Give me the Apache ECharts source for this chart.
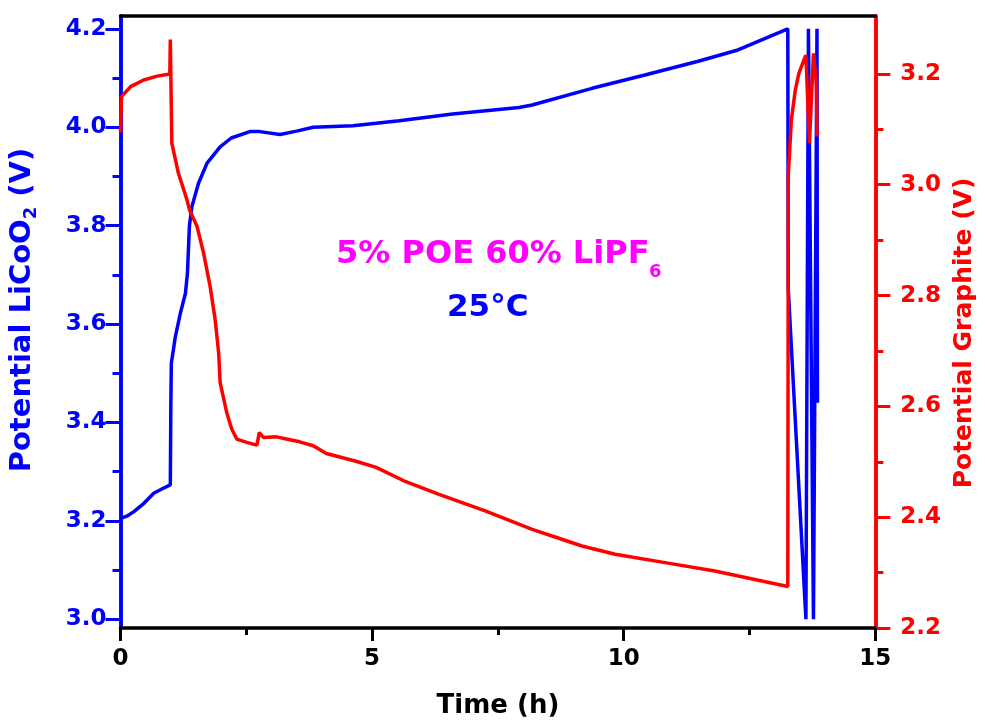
<!DOCTYPE html>
<html>
<head>
<meta charset="utf-8">
<script src="https://cdn.jsdelivr.net/npm/echarts@6/dist/echarts.min.js"></script>
<style>
html,body{margin:0;padding:0;background:#fff;}
#chart{width:985px;height:725px;}
</style>
</head>
<body>
<div id="chart"></div>
<script>
// ---- data ----
const timeTicksMajor = [0, 5, 10, 15];
const leftTicks = [3.0, 3.2, 3.4, 3.6, 3.8, 4.0, 4.2];
const leftMinorTicks = [3.1, 3.3, 3.5, 3.7, 3.9, 4.1];
const rightTicks = [2.2, 2.4, 2.6, 2.8, 3.0, 3.2];
const rightMinorTicks = [2.3, 2.5, 2.7, 2.9, 3.1];

// LiCoO2 potential (V) vs time (h)
const licoo2Time = [0.00,0.14,0.26,0.46,0.66,0.85,0.99,1.00,1.01,1.09,1.19,1.29,1.33,1.37,1.42,1.55,1.72,1.98,2.20,2.57,2.77,3.17,3.50,3.83,4.62,5.54,6.60,7.92,8.18,9.37,10.42,11.48,12.27,13.26,13.27,13.62,13.67,13.69,13.77,13.84,13.85];
const licoo2V    = [3.205,3.210,3.218,3.235,3.256,3.266,3.273,3.430,3.520,3.574,3.622,3.662,3.703,3.800,3.839,3.886,3.927,3.960,3.978,3.991,3.991,3.985,3.992,4.000,4.003,4.013,4.027,4.040,4.045,4.079,4.106,4.134,4.157,4.200,3.670,3.000,4.200,4.200,3.000,4.200,3.440];

// Graphite potential (V) vs time (h)
const graphiteTime = [0.00,0.02,0.20,0.46,0.73,0.98,0.99,1.00,1.02,1.15,1.32,1.37,1.52,1.65,1.78,1.88,1.95,1.98,2.11,2.21,2.31,2.51,2.71,2.74,2.76,2.80,2.84,3.10,3.30,3.56,3.83,4.09,4.68,5.08,5.67,6.33,7.26,8.18,8.71,9.17,9.83,10.82,11.81,13.26,13.27,13.33,13.41,13.48,13.58,13.62,13.69,13.77,13.81,13.82,13.83,13.84];
const graphiteV    = [3.094,3.159,3.177,3.189,3.196,3.200,3.262,3.200,3.075,3.021,2.973,2.955,2.925,2.877,2.817,2.757,2.697,2.643,2.589,2.559,2.541,2.535,2.530,2.528,2.553,2.548,2.544,2.545,2.541,2.536,2.529,2.515,2.501,2.490,2.464,2.441,2.411,2.378,2.362,2.348,2.333,2.318,2.303,2.275,3.015,3.117,3.171,3.201,3.225,3.234,3.075,3.237,3.200,3.190,3.171,3.087];

const LEFT_MIN = 2.982, LEFT_MAX = 4.226;
const RIGHT_MIN = 2.2, RIGHT_MAX = 3.3045;

const pair = (t, v) => t.map((x, i) => [x, v[i]]);

const FONT = 'DejaVu Sans';
const BLUE = '#0000FF', RED = '#FF0000', MAGENTA = '#FF00FF';

function yAxisBase(min, max, pos, color) {
  return {
    type: 'value', min: min, max: max, position: pos,
    axisLine: {show: true, onZero: false, lineStyle: {color: color, width: 3.5}},
    splitLine: {show: false}
  };
}

const chart = echarts.init(document.getElementById('chart'));
chart.setOption({
  animation: false,
  backgroundColor: '#fff',
  grid: {left: 120, right: 107, top: 16, bottom: 97, containLabel: false},
  xAxis: [{
    type: 'value', min: 0, max: 15, interval: 5, position: 'bottom',
    axisLine: {onZero: false, lineStyle: {color: '#000', width: 3.5}},
    axisTick: {inside: false, length: 13, lineStyle: {color: '#000', width: 3}},
    minorTick: {show: true, splitNumber: 2, length: 7, lineStyle: {color: '#000', width: 3}},
    splitLine: {show: false},
    axisLabel: {color: '#000', fontWeight: 'bold', fontSize: 23, fontFamily: FONT, margin: 20,
      formatter: v => timeTicksMajor.includes(v) ? String(v) : ''},
    name: 'Time (h)', nameLocation: 'middle', nameGap: 65,
    nameTextStyle: {color: '#000', fontWeight: 'bold', fontSize: 26, fontFamily: FONT}
  }, {
    type: 'value', min: 0, max: 15, position: 'top',
    axisLine: {onZero: false, lineStyle: {color: '#000', width: 3.5}},
    axisTick: {show: false}, axisLabel: {show: false}, splitLine: {show: false}
  }],
  yAxis: [
    Object.assign(yAxisBase(LEFT_MIN, LEFT_MAX, 'left', BLUE), {
      axisTick: {show: true, inside: false, length: 15, customValues: leftTicks, lineStyle: {color: BLUE, width: 3}},
      axisLabel: {customValues: leftTicks, formatter: v => v.toFixed(1), color: BLUE, fontWeight: 'bold', fontSize: 23, fontFamily: FONT, margin: 14},
      name: '{a|Potential LiCoO}{s|2}{a| (V)}', nameLocation: 'middle', nameGap: 80, nameRotate: 90,
      nameTextStyle: {color: BLUE, fontWeight: 'bold', fontSize: 29, fontFamily: FONT, padding: [0, 0, 0, 24],
        rich: {
          a: {color: BLUE, fontWeight: 'bold', fontSize: 29, fontFamily: FONT, lineHeight: 36},
          s: {color: BLUE, fontWeight: 'bold', fontSize: 18, fontFamily: FONT, lineHeight: 10, verticalAlign: 'bottom'}
        }}
    }),
    Object.assign(yAxisBase(RIGHT_MIN, RIGHT_MAX, 'right', RED), {
      axisTick: {show: true, inside: false, length: 15, customValues: rightTicks, lineStyle: {color: RED, width: 3}},
      axisLabel: {customValues: rightTicks, formatter: v => v.toFixed(1), color: RED, fontWeight: 'bold', fontSize: 23, fontFamily: FONT, margin: 25},
      name: 'Potential Graphite (V)', nameLocation: 'middle', nameGap: 75, nameRotate: 90,
      nameTextStyle: {color: RED, fontWeight: 'bold', fontSize: 25, fontFamily: FONT, padding: [0, 22, 0, 0]}
    }),
    Object.assign(yAxisBase(LEFT_MIN, LEFT_MAX, 'left', BLUE), {
      axisTick: {show: true, inside: false, length: 8, customValues: leftMinorTicks, lineStyle: {color: BLUE, width: 3}},
      axisLabel: {show: false}
    }),
    Object.assign(yAxisBase(RIGHT_MIN, RIGHT_MAX, 'right', RED), {
      axisTick: {show: true, inside: false, length: 8, customValues: rightMinorTicks, lineStyle: {color: RED, width: 3}},
      axisLabel: {show: false}
    })
  ],
  graphic: [{
    type: 'text', left: 336, top: 239,
    style: {text: '5% POE 60% LiPF', fill: MAGENTA, fontWeight: 'bold', fontSize: 32, fontFamily: FONT}
  }, {
    type: 'text', left: 649, top: 263,
    style: {text: '6', fill: MAGENTA, fontWeight: 'bold', fontSize: 18, fontFamily: FONT}
  }, {
    type: 'text', left: 447, top: 292,
    style: {text: '25°C', fill: BLUE, fontWeight: 'bold', fontSize: 31, fontFamily: FONT}
  }],
  series: [{
    type: 'line', name: 'LiCoO2', xAxisIndex: 0, yAxisIndex: 0,
    data: pair(licoo2Time, licoo2V), showSymbol: false, smooth: false,
    lineStyle: {color: BLUE, width: 3.5}, itemStyle: {color: BLUE}
  }, {
    type: 'line', name: 'Graphite', xAxisIndex: 0, yAxisIndex: 1,
    data: pair(graphiteTime, graphiteV), showSymbol: false, smooth: false,
    lineStyle: {color: RED, width: 3.5}, itemStyle: {color: RED}
  }]
});
</script>
</body>
</html>
